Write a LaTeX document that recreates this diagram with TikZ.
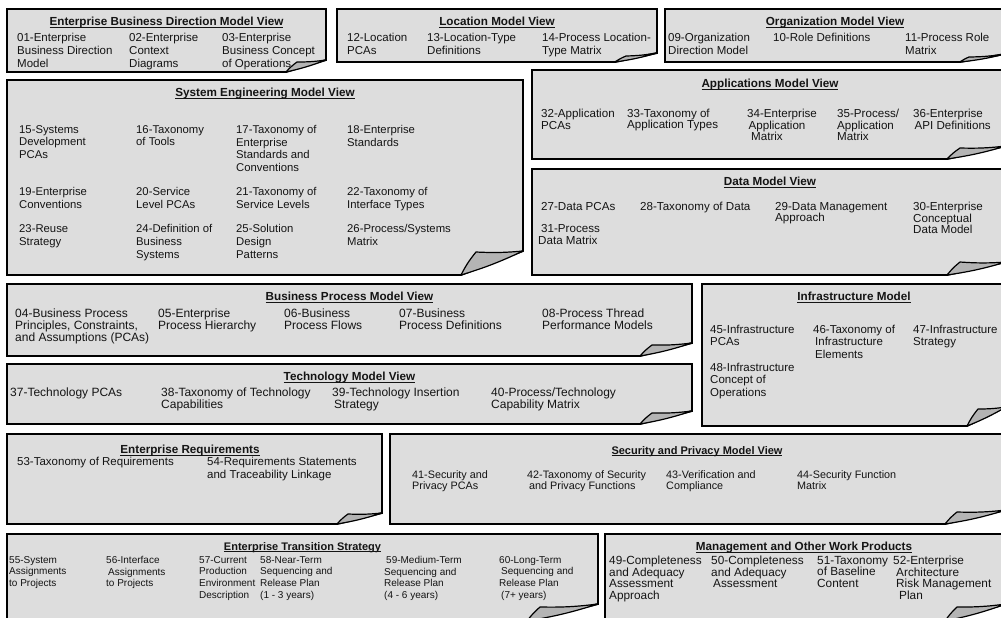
\documentclass[tikz,border=0pt]{standalone}
\usepackage{fontspec}
\setmainfont{Liberation Sans}
\definecolor{boxgray}{RGB}{221,221,221}
\definecolor{flapgray}{RGB}{180,180,180}
\definecolor{inkc}{RGB}{20,20,20}
\newlength\ulw
\newcommand\ult[1]{\settowidth\ulw{#1}\rlap{\rule[-1.9pt]{\ulw}{0.9pt}}#1}
% #1 x0, #2 y0, #3 x1, #4 y1, #5 A.x (fold on bottom), #6 B.y (fold on right), #7 C.x, #8 C.y (flap tip)
\newcommand\pagebox[8]{%
  \filldraw[boxline] (#1,#2) -- (#3,#2) -- (#3,#6) -- (#5,#4) -- (#1,#4) -- cycle;
  \filldraw[flapline] (#5,#4) to[bend left=6] (#7,#8) to[bend right=4] (#3,#6) to[bend left=4] cycle;
}
\tikzset{
  boxline/.style={draw=black, line width=1.9pt, fill=boxgray, line join=miter},
  flapline/.style={draw=black, line width=1.2pt, fill=flapgray, line join=round},
  ttl/.style={anchor=north, inner sep=0pt, text=inkc},
  itm/.style={anchor=north west, inner sep=0pt, align=left, text=inkc},
  tA/.style={font=\bfseries\fontsize{11.7}{13}\selectfont},
  tB/.style={font=\bfseries\fontsize{11}{13}\selectfont},
  fA/.style={font=\fontsize{11.5}{13.3}\selectfont},
  fS/.style={font=\fontsize{11.3}{12.7}\selectfont},
  fT/.style={font=\fontsize{11.6}{11.4}\selectfont},
  fM/.style={font=\fontsize{11.8}{11.5}\selectfont},
  fB/.style={font=\fontsize{12}{12}\selectfont},
  fI/.style={font=\fontsize{11.5}{12.4}\selectfont},
  fE/.style={font=\fontsize{10.8}{11.7}\selectfont},
  fX/.style={font=\fontsize{10}{11.7}\selectfont},
}
\begin{document}
\begin{tikzpicture}[x=1pt,y=-1pt]
\useasboundingbox (0,0) rectangle (1001,618);
\clip (0,0) rectangle (1001,618);
\fill[white] (0,0) rectangle (1001,618);

% ---------- boxes ----------
\pagebox{7}{9}{326}{72}{286}{60}{297}{62}
\pagebox{337}{9}{657}{62}{615}{53}{626}{56}
\pagebox{665}{9}{1005}{62}{960}{54}{969}{57}
\pagebox{7}{80}{523}{275}{461}{251}{476}{252}
\pagebox{532}{70}{1006}{159}{947}{146}{960}{148}
\pagebox{532}{169}{1006}{275}{947}{262}{960}{262}
\pagebox{7}{284}{692}{356}{640}{343}{652}{345}
\pagebox{7}{364}{692}{424}{640}{411}{652}{413}
\pagebox{702}{284}{1006}{426}{967}{407}{978}{409}
\pagebox{7}{434}{382}{524}{337}{513}{348}{514}
\pagebox{390}{434}{1006}{524}{945}{510}{957}{512}
\pagebox{7}{534}{598}{621}{527}{604}{540}{607}
\pagebox{605}{534}{1006}{621}{945}{604}{957}{607}

% ---------- Enterprise Business Direction ----------
\node[ttl,tA] (ebdT) at (166.5,17) {\ult{Enterprise Business Direction Model View}};
\node[itm,fA] (i01) at (17,32.5) {01-Enterprise\\Business Direction\\Model};
\node[itm,fA] (i02) at (129,32.5) {02-Enterprise\\Context\\Diagrams};
\node[itm,fA] (i03) at (222,32.5) {03-Enterprise\\Business Concept\\of Operations};

% ---------- Location ----------
\node[ttl,tA] (locT) at (497,17) {\ult{Location Model View}};
\node[itm,fA] (i12) at (347,33) {12-Location\\PCAs};
\node[itm,fA] (i13) at (427,33) {13-Location-Type\\Definitions};
\node[itm,fA] (i14) at (542,33) {14-Process Location-\\Type Matrix};

% ---------- Organization ----------
\node[ttl,tA] (orgT) at (835,17) {\ult{Organization Model View}};
\node[itm,fA] (i09) at (668,33) {09-Organization\\Direction Model};
\node[itm,fA] (i10) at (773,33) {10-Role Definitions};
\node[itm,fA] (i11) at (905,33) {11-Process Role\\Matrix};

% ---------- System Engineering ----------
\node[ttl,tA] (seT) at (265,88) {\ult{System Engineering Model View}};
\node[itm,fS] (i15) at (19,125) {15-Systems\\Development\\PCAs};
\node[itm,fS] (i16) at (136,125) {16-Taxonomy\\of Tools};
\node[itm,fS] (i17) at (236,125) {17-Taxonomy of\\Enterprise\\Standards and\\Conventions};
\node[itm,fS] (i18) at (347,125) {18-Enterprise\\Standards};
\node[itm,fS] (i19) at (19,187) {19-Enterprise\\Conventions};
\node[itm,fS] (i20) at (136,187) {20-Service\\Level PCAs};
\node[itm,fS] (i21) at (236,187) {21-Taxonomy of\\Service Levels};
\node[itm,fS] (i22) at (347,187) {22-Taxonomy of\\Interface Types};
\node[itm,fS] (i23) at (19,224.5) {23-Reuse\\Strategy};
\node[itm,fS] (i24) at (136,224.5) {24-Definition of\\Business\\Systems};
\node[itm,fS] (i25) at (236,224.5) {25-Solution\\Design\\Patterns};
\node[itm,fS] (i26) at (347,224.5) {26-Process/Systems\\Matrix};

% ---------- Applications ----------
\node[ttl,tA] (appT) at (770,79) {\ult{Applications Model View}};
\node[itm,fT] (i32) at (541,109) {32-Application\\PCAs};
\node[itm,fT] (i33) at (627,109) {33-Taxonomy of\\Application Types};
\node[itm,fT] (i34) at (747,109) {34-Enterprise\\\hspace*{1.5pt}Application\\\hspace*{4pt}Matrix};
\node[itm,fT] (i35) at (837,109) {35-Process/\\Application\\Matrix};
\node[itm,fT] (i36) at (913,109) {36-Enterprise\\\hspace*{1.5pt}API Definitions};

% ---------- Data ----------
\node[ttl,tA] (datT) at (770,177) {\ult{Data Model View}};
\node[itm,fT] (i27) at (541,202) {27-Data PCAs};
\node[itm,fT] (i28) at (640,202) {28-Taxonomy of Data};
\node[itm,fT] (i29) at (775,202) {29-Data Management\\Approach};
\node[itm,fT] (i30) at (913,202) {30-Enterprise\\Conceptual\\Data Model};
\node[itm,fT] (i31) at (538,224.5) {\hspace*{3pt}31-Process\\Data Matrix};

% ---------- Business Process ----------
\node[ttl,tA] (bpT) at (349.5,292) {\ult{Business Process Model View}};
\node[itm,fB] (i04) at (15,309) {04-Business Process\\Principles, Constraints,\\and Assumptions (PCAs)};
\node[itm,fB] (i05) at (158,309) {05-Enterprise\\Process Hierarchy};
\node[itm,fB] (i06) at (284,309) {06-Business\\Process Flows};
\node[itm,fB] (i07) at (399,309) {07-Business\\Process Definitions};
\node[itm,fB] (i08) at (542,309) {08-Process Thread\\Performance Models};

% ---------- Technology ----------
\node[ttl,tA] (tecT) at (349.5,372) {\ult{Technology Model View}};
\node[itm,fB] (i37) at (10,388) {37-Technology PCAs};
\node[itm,fB] (i38) at (161,388) {38-Taxonomy of Technology\\Capabilities};
\node[itm,fB] (i39) at (332,388) {39-Technology Insertion\\\hspace*{2pt}Strategy};
\node[itm,fB] (i40) at (491,388) {40-Process/Technology\\Capability Matrix};

% ---------- Infrastructure ----------
\node[ttl,tA] (infT) at (854,292) {\ult{Infrastructure Model}};
\node[itm,fI] (i45) at (710,325) {45-Infrastructure\\PCAs};
\node[itm,fI] (i46) at (813,325) {46-Taxonomy of\\\hspace*{2pt}Infrastructure\\\hspace*{2pt}Elements};
\node[itm,fI] (i47) at (913,325) {47-Infrastructure\\Strategy};
\node[itm,fI] (i48) at (710,363) {48-Infrastructure\\Concept of\\Operations};

% ---------- Enterprise Requirements ----------
\node[ttl,tA] (reqT) at (190,445) {\ult{Enterprise Requirements}};
\node[itm,fA] (i53) at (17,457) {53-Taxonomy of Requirements};
\node[itm,fA] (i54) at (207,457) {54-Requirements Statements\\and Traceability Linkage};

% ---------- Security and Privacy ----------
\node[ttl,tB] (secT) at (697,446) {\ult{Security and Privacy Model View}};
\node[itm,fE] (i41) at (412,470) {41-Security and\\Privacy PCAs};
\node[itm,fE] (i42) at (527,470) {42-Taxonomy of Security\\\hspace*{2pt}and Privacy Functions};
\node[itm,fE] (i43) at (666,470) {43-Verification and\\Compliance};
\node[itm,fE] (i44) at (797,470) {44-Security Function\\Matrix};

% ---------- Enterprise Transition Strategy ----------
\node[ttl,tB] (etsT) at (302.5,542) {\ult{Enterprise Transition Strategy}};
\node[itm,fX] (i55) at (9,556) {55-System\\Assignments\\to Projects};
\node[itm,fX] (i56) at (106,556) {56-Interface\\\hspace*{2pt}Assignments\\to Projects};
\node[itm,fX] (i57) at (199,556) {57-Current\\Production\\Environment\\Description};
\node[itm,fX] (i58) at (260,556) {58-Near-Term\\Sequencing and\\Release Plan\\(1 - 3 years)};
\node[itm,fX] (i59) at (384,556) {\hspace*{2pt}59-Medium-Term\\Sequencing and\\Release Plan\\(4 - 6 years)};
\node[itm,fX] (i60) at (499,556) {60-Long-Term\\\hspace*{2pt}Sequencing and\\Release Plan\\\hspace*{2pt}(7+ years)};

% ---------- Management ----------
\node[ttl,tA] (mgtT) at (804,542) {\ult{Management and Other Work Products}};
\node[itm,fM] (i49) at (609,556) {49-Completeness\\and Adequacy\\Assessment\\Approach};
\node[itm,fM] (i50) at (711,556) {50-Completeness\\and Adequacy\\\hspace*{2pt}Assessment};
\node[itm,fM] (i51) at (817,556) {51-Taxonomy\\of Baseline\\Content};
\node[itm,fM] (i52) at (893,556) {52-Enterprise\\\hspace*{3pt}Architecture\\\hspace*{3pt}Risk Management\\\hspace*{6pt}Plan};
\end{tikzpicture}
\end{document}
